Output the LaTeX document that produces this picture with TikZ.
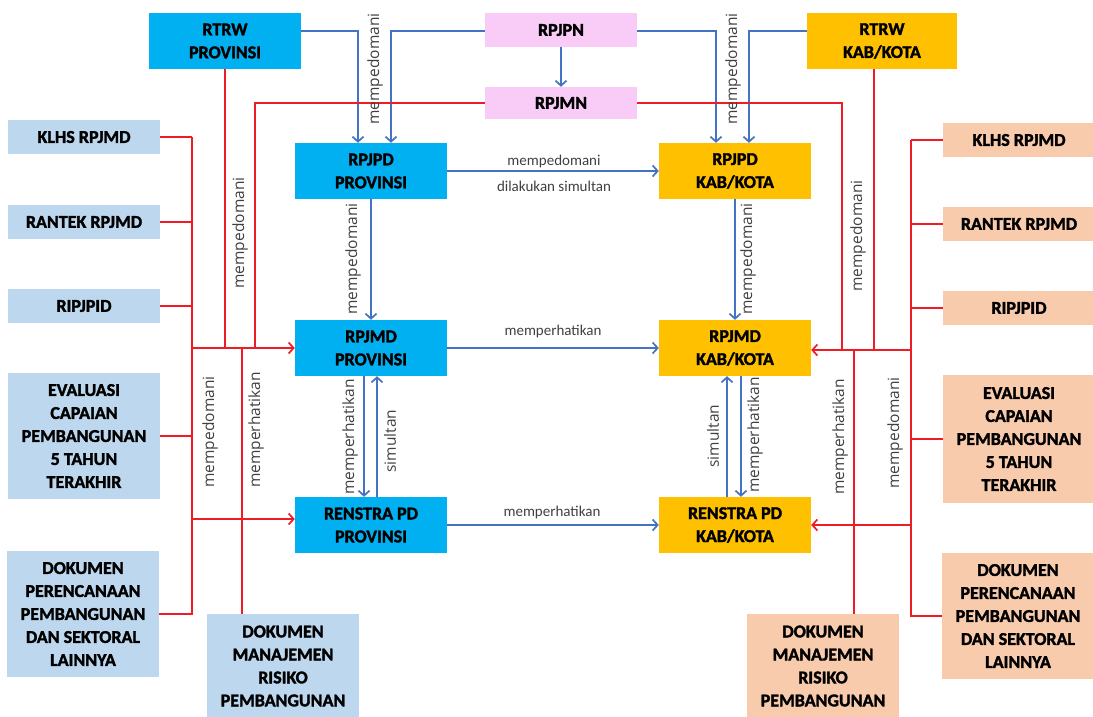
\documentclass[tikz,border=0pt]{standalone}
\usepackage{fontspec}
\setmainfont{Carlito}
\newfontfamily\boxfont{Carlito}[BoldFeatures={FakeBold=1.8}]
\newfontfamily\vertfont{Open Sans}
\usetikzlibrary{arrows.meta}
\definecolor{provblue}{HTML}{00B0F0}
\definecolor{kabgold}{HTML}{FFC000}
\definecolor{natpink}{HTML}{F9CBF7}
\definecolor{docblue}{HTML}{BDD7EE}
\definecolor{docpeach}{HTML}{F8CBAD}
\definecolor{linkblue}{HTML}{4472C4}
\definecolor{linkred}{HTML}{EE1C25}
\definecolor{lbltext}{HTML}{404040}

\begin{document}
\begin{tikzpicture}[x=1pt,y=-1pt,>={Straight Barb[length=5pt,width=11pt]},
  box/.style={inner sep=0pt,align=center,minimum width=152pt,
    font=\boxfont\bfseries\fontsize{18}{23}\selectfont},
  bluelink/.style={linkblue,line width=1.7pt},
  redlink/.style={linkred,line width=1.7pt},
  hlbl/.style={text=lbltext,inner sep=1pt,font=\fontsize{15}{18}\selectfont},
  vlbl/.style={text=lbltext,inner sep=1pt,rotate=90,font=\vertfont\fontsize{15.5}{18}\selectfont}]
  \useasboundingbox (0,0) rectangle (1093,716);

  \node[box,fill=provblue,minimum height=56pt] (rtrwprov) at (225,41) {RTRW\\PROVINSI};
  \node[box,fill=natpink,minimum height=34pt] (rpjpn) at (561,30) {RPJPN};
  \node[box,fill=natpink,minimum height=32pt] (rpjmn) at (561,103) {RPJMN};
  \node[box,fill=kabgold,minimum width=150pt,minimum height=56pt] (rtrwkab) at (882,41) {RTRW\\KAB/KOTA};

  \node[box,fill=provblue,minimum height=56pt] (rpjpdprov) at (371,171) {RPJPD\\PROVINSI};
  \node[box,fill=provblue,minimum height=56pt] (rpjmdprov) at (371,348) {RPJMD\\PROVINSI};
  \node[box,fill=provblue,minimum height=56pt] (renstraprov) at (371,525) {RENSTRA PD\\PROVINSI};
  \node[box,fill=kabgold,minimum height=56pt] (rpjpdkab) at (735,171) {RPJPD\\KAB/KOTA};
  \node[box,fill=kabgold,minimum height=56pt] (rpjmdkab) at (735,348) {RPJMD\\KAB/KOTA};
  \node[box,fill=kabgold,minimum height=56pt] (renstrakab) at (735,525) {RENSTRA PD\\KAB/KOTA};

  \node[box,fill=docblue,minimum height=34pt] (klhsprov) at (84,137) {KLHS RPJMD};
  \node[box,fill=docblue,minimum height=34pt] (rantekprov) at (84,222) {RANTEK RPJMD};
  \node[box,fill=docblue,minimum height=34pt] (ripjpidprov) at (84,306) {RIPJPID};
  \node[box,fill=docblue,minimum height=126pt] (evalprov) at (84,436)
    {EVALUASI\\CAPAIAN\\PEMBANGUNAN\\5 TAHUN\\TERAKHIR};
  \node[box,fill=docblue,minimum height=126pt] (dokrenprov) at (83,614)
    {DOKUMEN\\PERENCANAAN\\PEMBANGUNAN\\DAN SEKTORAL\\LAINNYA};
  \node[box,fill=docblue,minimum height=104pt] (dokrisprov) at (283,666)
    {DOKUMEN\\MANAJEMEN\\RISIKO\\PEMBANGUNAN};

  \node[box,fill=docpeach,minimum height=34pt] (klhskab) at (1019,140) {KLHS RPJMD};
  \node[box,fill=docpeach,minimum height=34pt] (rantekkab) at (1019,224) {RANTEK RPJMD};
  \node[box,fill=docpeach,minimum height=34pt] (ripjpidkab) at (1019,308) {RIPJPID};
  \node[box,fill=docpeach,minimum height=128pt] (evalkab) at (1019,439)
    {EVALUASI\\CAPAIAN\\PEMBANGUNAN\\5 TAHUN\\TERAKHIR};
  \node[box,fill=docpeach,minimum height=126pt] (dokrenkab) at (1018,616)
    {DOKUMEN\\PERENCANAAN\\PEMBANGUNAN\\DAN SEKTORAL\\LAINNYA};
  \node[box,fill=docpeach,minimum height=104pt] (dokriskab) at (823,666)
    {DOKUMEN\\MANAJEMEN\\RISIKO\\PEMBANGUNAN};

  % blue links
  \draw[bluelink,->] ([yshift=10pt]rtrwprov.east) -| ([xshift=-13pt]rpjpdprov.north);
  \draw[bluelink,->] ([yshift=-1pt]rpjpn.west) -| ([xshift=20pt]rpjpdprov.north);
  \draw[bluelink,->] (rpjpn) -- (rpjmn);
  \draw[bluelink,->] ([yshift=-1pt]rpjpn.east) -| ([xshift=-19pt]rpjpdkab.north);
  \draw[bluelink,->] ([yshift=10pt]rtrwkab.west) -| ([xshift=14pt]rpjpdkab.north);
  \draw[bluelink,->] (rpjpdprov) -- (rpjpdkab);
  \draw[bluelink,->] (rpjmdprov) -- (rpjmdkab);
  \draw[bluelink,->] (renstraprov) -- (renstrakab);
  \draw[bluelink,->] (rpjpdprov) -- (rpjmdprov);
  \draw[bluelink,->] (rpjpdkab) -- (rpjmdkab);
  \draw[bluelink,->] ([xshift=-7pt]rpjmdprov.south) -- ([xshift=-7pt]renstraprov.north);
  \draw[bluelink,->] ([xshift=6pt]renstraprov.north) -- ([xshift=6pt]rpjmdprov.south);
  \draw[bluelink,->] ([xshift=-8pt]renstrakab.north) -- ([xshift=-8pt]rpjmdkab.south);
  \draw[bluelink,->] ([xshift=6pt]rpjmdkab.south) -- ([xshift=6pt]renstrakab.north);

  % red links, provinsi side
  \coordinate (lbus) at (192,348);
  \coordinate (lmn) at (255,348);
  \coordinate (lris) at (242,348);
  \path ([yshift=6pt]renstraprov.west) coordinate (renin);
  \foreach \n in {klhsprov,rantekprov,ripjpidprov,evalprov}
    \draw[redlink] (\n.east) -- (\n.east -| lbus);
  \draw[redlink] (klhsprov.east -| lbus) -- (dokrenprov.east -| lbus) -- (dokrenprov.east);
  \draw[redlink,->] (lbus) -- (rpjmdprov);
  \draw[redlink,->] (renin -| lbus) -- (renin);
  \draw[redlink] (rtrwprov.south) -- (rtrwprov.south |- lbus);
  \draw[redlink] (rpjmn.west) -| (lmn);
  \draw[redlink] (lris |- dokrisprov.north) -- (lris);

  % red links, kab/kota side
  \coordinate (rbus) at (911,350);
  \coordinate (rmn) at (842,350);
  \coordinate (rtr) at (874,350);
  \coordinate (rris) at (854,350);
  \foreach \n in {klhskab,rantekkab,ripjpidkab,evalkab}
    \draw[redlink] (\n.west) -- (\n.west -| rbus);
  \draw[redlink] (klhskab.west -| rbus) -- (dokrenkab.west -| rbus) -- (dokrenkab.west);
  \draw[redlink,->] (rbus) -- (rbus -| rpjmdkab.east);
  \draw[redlink,->] (rbus |- renstrakab.east) -- (renstrakab.east);
  \draw[redlink] (rpjmn.east) -| (rmn);
  \draw[redlink] (rtrwkab.south -| rtr) -- (rtr);
  \draw[redlink] (rris |- dokriskab.north) -- (rris);

  \node[vlbl] (lblrtrwprov) at (375,69) {mempedomani};
  \node[vlbl] (lblrtrwkab) at (733,69) {mempedomani};
  \node[vlbl] (lblmnprov) at (240,233) {mempedomani};
  \node[vlbl] (lblmnkab) at (858,236) {mempedomani};
  \node[vlbl] (lbljpprov) at (353,259) {mempedomani};
  \node[vlbl] (lbljpkab) at (748,259) {mempedomani};
  \node[hlbl] (lbljp) at (554,161) {mempedomani};
  \node[hlbl] (lblsim) at (554,186) {dilakukan simultan};
  \node[hlbl] (lbljm) at (553,331) {memperhatikan};
  \node[hlbl] (lblren) at (552,512) {memperhatikan};
  \node[vlbl] (lbldocprov) at (210,432) {mempedomani};
  \node[vlbl] (lblrisprov) at (256,430) {memperhatikan};
  \node[vlbl] (lbldownprov) at (350,437) {memperhatikan};
  \node[vlbl] (lblupprov) at (390,441) {simultan};
  \node[vlbl] (lblupkab) at (713,436) {simultan};
  \node[vlbl] (lbldownkab) at (755,435) {memperhatikan};
  \node[vlbl] (lblriskab) at (840,437) {memperhatikan};
  \node[vlbl] (lbldockab) at (895,433) {mempedomani};
\end{tikzpicture}
\end{document}
